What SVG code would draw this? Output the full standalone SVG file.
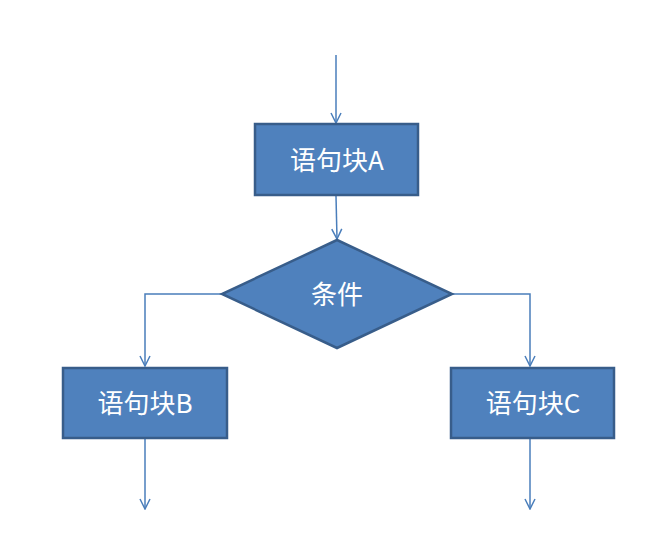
<svg xmlns="http://www.w3.org/2000/svg" width="661" height="553" viewBox="0 0 661 553">
<style>
.box{fill:#4F81BD;stroke:#385D8A;stroke-width:2.5}
.lbl{fill:#ffffff;font-family:"Noto Sans CJK SC","Noto Sans",sans-serif;font-size:26px;text-anchor:middle;dominant-baseline:central}
.ln{fill:none;stroke:#4A7EBB;stroke-width:1.5}
</style>
<defs>
<marker id="arr" viewBox="0 0 12 12" refX="11" refY="6" markerWidth="12" markerHeight="12" markerUnits="userSpaceOnUse" orient="auto">
<path d="M1,1 L11,6 L1,11" fill="none" stroke="#4A7EBB" stroke-width="1.5"/>
</marker>
</defs>
<rect width="661" height="553" fill="#ffffff"/>
<g id="connectors">
<path class="ln" d="M336,55 L336,123" marker-end="url(#arr)"/>
<path class="ln" d="M336,196 L337,239" marker-end="url(#arr)"/>
<path class="ln" d="M222,294 L145,294 L145,366" marker-end="url(#arr)"/>
<path class="ln" d="M452,294 L530,294 L530,366" marker-end="url(#arr)"/>
<path class="ln" d="M145,439 L145,509" marker-end="url(#arr)"/>
<path class="ln" d="M530,439 L530,509" marker-end="url(#arr)"/>
</g>
<g id="nodeA">
<rect class="box" x="255" y="124" width="163" height="71"/>
<text class="lbl" x="337" y="158">语句块A</text>
</g>
<g id="cond">
<polygon class="box" points="337,240 452,294 337,348 222,294"/>
<text class="lbl" x="337" y="292">条件</text>
</g>
<g id="nodeB">
<rect class="box" x="63" y="368" width="164" height="70"/>
<text class="lbl" x="145" y="401">语句块B</text>
</g>
<g id="nodeC">
<rect class="box" x="451" y="368" width="163" height="70"/>
<text class="lbl" x="533" y="401">语句块C</text>
</g>
</svg>
